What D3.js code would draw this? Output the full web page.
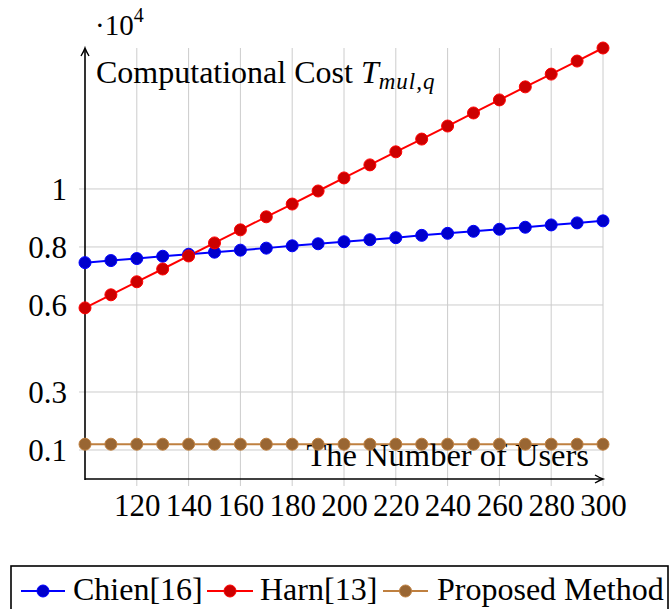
<!DOCTYPE html>
<html><head><meta charset="utf-8">
<script src="https://cdn.jsdelivr.net/npm/d3@7"></script>
<style>body{margin:0;background:#fff}svg{display:block}text{font-family:"Liberation Serif","Times New Roman",serif;fill:#000}</style>
</head><body>
<script>
const users = [100,110,120,130,140,150,160,170,180,190,200,210,220,230,240,250,260,270,280,290,300];
const chien = [0.746,0.753,0.760,0.768,0.775,0.782,0.789,0.796,0.804,0.811,0.818,0.825,0.832,0.840,0.847,0.854,0.861,0.868,0.876,0.883,0.890];
const harn = [0.590,0.635,0.680,0.724,0.769,0.814,0.859,0.904,0.948,0.993,1.038,1.083,1.128,1.172,1.217,1.262,1.307,1.352,1.396,1.441,1.486];
const proposed = [0.12,0.12,0.12,0.12,0.12,0.12,0.12,0.12,0.12,0.12,0.12,0.12,0.12,0.12,0.12,0.12,0.12,0.12,0.12,0.12,0.12];
const xTicks = [120,140,160,180,200,220,240,260,280,300];
const yTicks = [0.1,0.3,0.6,0.8,1];
const yTickLabels = ["0.1","0.3","0.6","0.8","1"];
const seriesNames = ["Chien[16]","Harn[13]","Proposed Method"];
const seriesColors = ["#0000ff","#ff0000","#bf8040"];
const markFills = ["#0000cc","#cc0000","#996633"];

const W=670,H=609;
const svg=d3.select("body").append("svg").attr("width",W).attr("height",H);
const x=d3.scaleLinear().domain([100,300]).range([85,603]);
const yMax=d3.max(harn);
const y=d3.scaleLinear().domain([0,yMax]).range([479,48]);

// grid
const grid=svg.append("g").attr("stroke","#cccccc").attr("stroke-width",1);
xTicks.forEach(t=>grid.append("line").attr("x1",x(t)).attr("x2",x(t)).attr("y1",y(yMax)).attr("y2",y(0)+7));
yTicks.forEach(t=>grid.append("line").attr("x1",x(100)-6).attr("x2",x(300)).attr("y1",y(t)).attr("y2",y(t)));

// axes via d3 axis for labels
const xAxis=d3.axisBottom(x).tickValues(xTicks).tickSize(0).tickPadding(0).tickFormat(d3.format("d"));
const gx=svg.append("g").attr("transform",`translate(0,${y(0)})`).call(xAxis);
gx.select(".domain").remove();
gx.selectAll("text").attr("font-size",31).attr("dy",null).attr("y",37).attr("fill","#000").attr("font-family","Liberation Serif");
const yAxis=d3.axisLeft(y).tickValues(yTicks).tickSize(0).tickPadding(0).tickFormat((d,i)=>yTickLabels[i]);
const gy=svg.append("g").attr("transform",`translate(${x(100)-18},0)`).call(yAxis);
gy.select(".domain").remove();
gy.selectAll("text").attr("font-size",31).attr("dy","0.33em").attr("fill","#000").attr("font-family","Liberation Serif");

// axis lines with arrows
svg.append("line").attr("x1",x(100)).attr("x2",x(300)-1).attr("y1",y(0)).attr("y2",y(0)).attr("stroke","#000").attr("stroke-width",1.6);
svg.append("line").attr("x1",x(100)).attr("x2",x(100)).attr("y1",y(0)+1).attr("y2",y(yMax)+1).attr("stroke","#000").attr("stroke-width",1.6);
svg.append("path").attr("d",`M${x(300)-8},${y(0)-4} Q${x(300)-3},${y(0)-1} ${x(300)},${y(0)} Q${x(300)-3},${y(0)+1} ${x(300)-8},${y(0)+4}`).attr("fill","none").attr("stroke","#000").attr("stroke-width",1.4);
svg.append("path").attr("d",`M${x(100)-4},${y(yMax)+8} Q${x(100)-1},${y(yMax)+3} ${x(100)},${y(yMax)} Q${x(100)+1},${y(yMax)+3} ${x(100)+4},${y(yMax)+8}`).attr("fill","none").attr("stroke","#000").attr("stroke-width",1.4);

// series
const data=[chien,harn,proposed];
const line=d3.line().x((d,i)=>x(users[i])).y(d=>y(d));
data.forEach((s,k)=>{
  svg.append("path").attr("d",line(s)).attr("fill","none").attr("stroke",seriesColors[k]).attr("stroke-width",2);
});
// x label (before brown markers)
svg.append("text").attr("x",589).attr("y",466).attr("text-anchor","end").attr("font-size",32.5).text("The Number of Users");
data.forEach((s,k)=>{
  svg.append("g").selectAll("circle").data(s).join("circle")
    .attr("cx",(d,i)=>x(users[i])).attr("cy",d=>y(d)).attr("r",6)
    .attr("fill",markFills[k]).attr("stroke",seriesColors[k]).attr("stroke-width",1);
});

// title
const t=svg.append("text").attr("x",96).attr("y",83).attr("font-size",32);
t.append("tspan").text("Computational Cost ");
t.append("tspan").attr("font-style","italic").text("T");
t.append("tspan").attr("font-style","italic").attr("font-size",23).attr("dy",6).attr("letter-spacing",1).text("mul,q");
const e=svg.append("text").attr("x",95).attr("y",35).attr("font-size",29);
e.append("tspan").text("·10");
e.append("tspan").attr("font-size",20).attr("dy",-13).text("4");

// legend
svg.append("rect").attr("x",11).attr("y",566).attr("width",657).attr("height",60).attr("fill","none").attr("stroke","#000").attr("stroke-width",1.6);
const legX=[[21,65,73],[207,253,260],[383,428,437]];
const ly=591;
seriesNames.forEach((n,k)=>{
  const [a,b,tx]=legX[k];
  svg.append("line").attr("x1",a).attr("x2",b).attr("y1",ly).attr("y2",ly).attr("stroke",seriesColors[k]).attr("stroke-width",2);
  svg.append("circle").attr("cx",(a+b)/2).attr("cy",ly).attr("r",6).attr("fill",markFills[k]).attr("stroke",seriesColors[k]);
  svg.append("text").attr("x",tx).attr("y",600).attr("font-size",32).text(n);
});
</script>
</body></html>
